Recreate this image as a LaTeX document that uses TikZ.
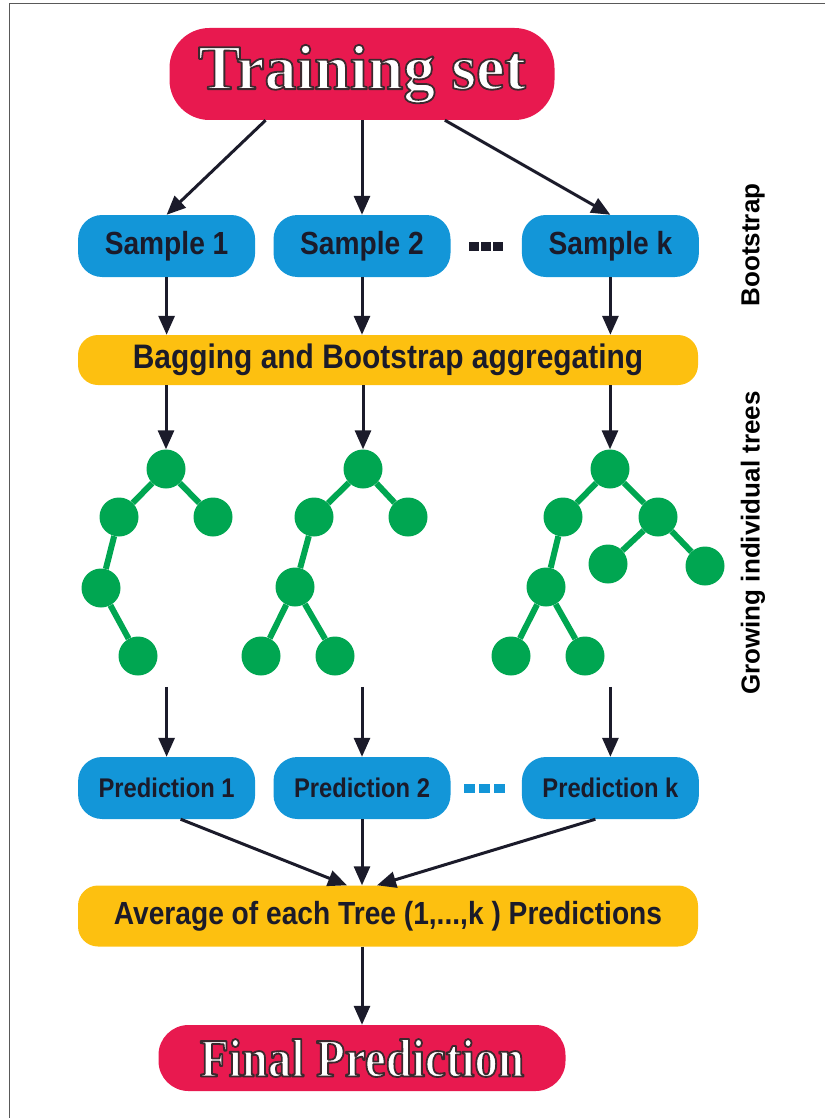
\documentclass[tikz,border=0pt]{standalone}
\usepackage{fontspec}
\setmainfont{Liberation Sans}
\newfontfamily\boxfont{Liberation Sans}[FakeStretch=0.88]
\newfontfamily\titlefont{Liberation Serif}
\newfontfamily\finalfont{Liberation Serif}[FakeStretch=0.87]
\usepackage{xcolor}
\usetikzlibrary{arrows.meta, positioning, calc}

% white letters with a dark edge
\newcommand\edgedtext[1]{\special{pdf:code q 2 Tr 1.8 w 1 j 0.23 0.16 0.18 RG}#1\special{pdf:code Q}}

\definecolor{pillred}{HTML}{E8194F}
\definecolor{skyblue}{HTML}{1396D8}
\definecolor{baryellow}{HTML}{FDC010}
\definecolor{treegreen}{HTML}{00A651}
\definecolor{inkdark}{HTML}{1B1B2A}

\begin{document}
\begin{tikzpicture}[x=1pt, y=-1pt,
  titlebox/.style={fill=pillred, text=white, rounded corners=40pt, minimum width=385pt, minimum height=92pt, font=\titlefont\bfseries\fontsize{64}{64}\selectfont},
  finalbox/.style={fill=pillred, text=white, rounded corners=30pt, minimum width=407pt, minimum height=66pt, font=\finalfont\bfseries\fontsize{54}{54}\selectfont},
  samplebox/.style={fill=skyblue, text=inkdark, rounded corners=24pt, minimum width=177pt, minimum height=62pt, font=\boxfont\bfseries\fontsize{32}{32}\selectfont},
  predbox/.style={samplebox, font=\boxfont\bfseries\fontsize{27}{27}\selectfont},
  barbox/.style={fill=baryellow, text=inkdark, rounded corners=20pt, minimum width=620pt, font=\boxfont\bfseries\fontsize{32}{32}\selectfont},
  sidelabel/.style={rotate=90, font=\bfseries\fontsize{26}{26}\selectfont},
  leaf/.style={circle, fill=treegreen, minimum size=39pt, inner sep=0pt},
  branch/.style={treegreen, line width=6pt},
  sqdot/.style={minimum width=10pt, minimum height=9pt, inner sep=0pt},
  arr/.style={-{Triangle[length=19pt, width=16pt]}, line width=3pt, color=inkdark}
]
  \useasboundingbox (0,0) rectangle (825,1118);
  \draw[gray!70!black, line width=1.2pt] (9.5,1118) -- (9.5,3.5) -- (825,3.5);

  % top row
  \node[titlebox] (train) at (362,74) {\edgedtext{Training set}};
  \node[samplebox] (s2) at (362,246) {Sample 2};
  \node[samplebox, left=18pt of s2] (s1) {Sample 1};
  \node[samplebox, right=71pt of s2] (sk) {Sample k};
  \foreach \i in {0,1,2}
    \node[sqdot, fill=inkdark] (sdot\i) at (474+12*\i,246) {};
  \node[barbox, minimum height=50pt, font=\boxfont\bfseries\fontsize{34}{34}\selectfont] (bag) at (388,360) {Bagging and Bootstrap aggregating};

  % trees
  \node[leaf] (r1) at (166,469) {};
  \node[leaf] (a1) at (119,517) {};
  \node[leaf] (b1) at (213,517) {};
  \node[leaf] (c1) at (101,588) {};
  \node[leaf] (d1) at (138,656) {};
  \node[leaf] (r2) at (363,469) {};
  \node[leaf] (a2) at (314,517) {};
  \node[leaf] (b2) at (408,517) {};
  \node[leaf] (c2) at (295,587) {};
  \node[leaf] (d2) at (261,656) {};
  \node[leaf] (e2) at (335,656) {};
  \node[leaf] (r3) at (610,469) {};
  \node[leaf] (a3) at (563,517) {};
  \node[leaf] (b3) at (658,517) {};
  \node[leaf] (f3) at (608,564) {};
  \node[leaf] (g3) at (705,566) {};
  \node[leaf] (c3) at (546,587) {};
  \node[leaf] (d3) at (511,656) {};
  \node[leaf] (e3) at (585,656) {};
  \foreach \u/\v in {r1/a1, r1/b1, a1/c1, c1/d1, r2/a2, r2/b2, a2/c2, c2/d2, c2/e2,
                     r3/a3, r3/b3, b3/f3, b3/g3, a3/c3, c3/d3, c3/e3}
    \draw[branch] (\u) -- (\v);

  % bottom row
  \node[predbox] (p2) at (362,788) {Prediction 2};
  \node[predbox, left=18pt of p2] (p1) {Prediction 1};
  \node[predbox, right=71pt of p2] (pk) {Prediction k};
  \foreach \i in {0,1,2}
    \node[sqdot, minimum width=11pt, fill=skyblue] (pdot\i) at (469+15*\i,788) {};
  \node[barbox, minimum height=61pt] (avg) at (388,916) {Average of each Tree (1,...,k ) Predictions};
  \node[finalbox] (final) at (362,1058) {\edgedtext{Final Prediction}};

  \node[sidelabel] (lboot) at (753,245) {Bootstrap};
  \node[sidelabel] (lgrow) at (753,543) {Growing individual trees};

  % arrows
  \draw[arr] ($(train.south)!0.5!(train.south west)$) -- (s1.north);
  \draw[arr] (train) -- (s2);
  \draw[arr] ($(train.south)!0.43!(train.south east)$) -- (sk.north);
  \foreach \s/\t in {s1/r1, s2/r2, sk/r3} {
    \draw[arr] (\s) -- (\s |- bag.north);
    \draw[arr] (bag.south -| \t) -- (\t);
  }
  \foreach \p in {p1, p2, pk}
    \draw[arr] ([yshift=70pt]\p.north) -- (\p.north);
  \draw[arr] ([xshift=14pt]p1.south) -- ($(avg.north -| p2)+(-15,0)$);
  \draw[arr] (p2) -- (avg.north -| p2);
  \draw[arr] ([xshift=-15pt]pk.south) -- ($(avg.north -| p2)+(15,0)$);
  \draw[arr] (avg.south -| final) -- (final);
\end{tikzpicture}
\end{document}
